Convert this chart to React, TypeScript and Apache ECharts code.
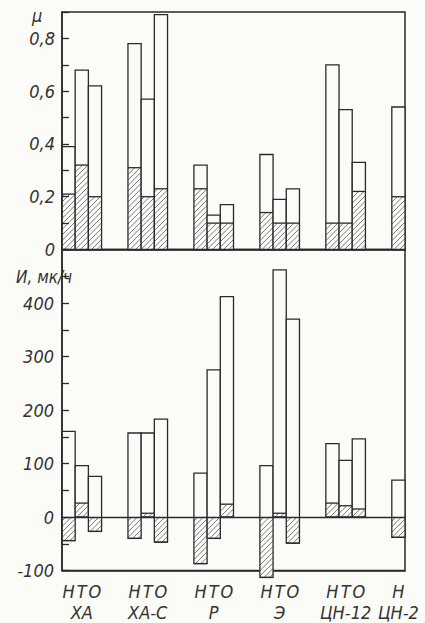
import { useEffect, useRef } from "react";
import * as echarts from "echarts";

// Groups of three bars (Н, Т, О) per material; last group has only Н
const barLetters = ["Н", "Т", "О"];
const groupNames = ["ХА", "ХА-С", "Р", "Э", "ЦН-12", "ЦН-2"];
const barsPerGroup = [3, 3, 3, 3, 3, 1];

// Upper panel: friction coefficient μ (total bar height and hatched part)
const muTotal = [0.39, 0.68, 0.62, 0.78, 0.57, 0.89, 0.32, 0.13, 0.17, 0.36, 0.19, 0.23, 0.7, 0.53, 0.33, 0.54];
const muHatched = [0.21, 0.32, 0.2, 0.31, 0.2, 0.23, 0.23, 0.1, 0.1, 0.14, 0.1, 0.1, 0.1, 0.1, 0.22, 0.2];

// Lower panel: wear И, мк/ч (total positive height and hatched part, may be negative)
const wearTotal = [160, 96, 76, 157, 157, 183, 82, 275, 412, 96, 462, 370, 137, 106, 146, 69];
const wearHatched = [-44, 26, -27, -40, 7, -47, -87, -40, 24, -113, 7, -49, 26, 21, 15, -38];

const muTicks = { min: 0, max: 0.9, interval: 0.1 };
const wearTicks = { min: -100, max: 500, interval: 50 };

const SLOTS_PER_GROUP = 5;
const INK = "#2a2a2a";
const HATCH = "#6b6b6b";
const PAPER = "#fbfbf8";
const FONT = "'Liberation Sans Narrow', 'DejaVu Sans Condensed', sans-serif";
const HATCH_STEP = 5.5;

function buildSlots() {
  const slots: { g: number; b: number; i: number }[] = [];
  let i = 0;
  const n = (groupNames.length - 1) * SLOTS_PER_GROUP + barsPerGroup[groupNames.length - 1];
  for (let s = 0; s < n; s++) {
    const g = Math.floor(s / SLOTS_PER_GROUP);
    const b = s % SLOTS_PER_GROUP;
    if (b < barsPerGroup[g]) {
      slots.push({ g, b, i });
      i++;
    } else {
      slots.push({ g, b: -1, i: -1 });
    }
  }
  return slots;
}

// renderItem for a bar made of a hatched part (0..hatched) and a white part up to total
function renderBar(_params: any, api: any) {
  const x = api.value(0);
  const h = api.value(1);
  const t = api.value(2);
  const p0 = api.coord([x, 0]);
  const pH = api.coord([x, h]);
  const pT = api.coord([x, t]);
  const bw = api.size([1, 0])[0];
  const xl = p0[0] - bw / 2;
  const xr = xl + bw;
  const yTop = Math.min(pT[1], pH[1], p0[1]);
  const yBot = Math.max(pT[1], pH[1], p0[1]);
  const hy0 = Math.min(pH[1], p0[1]);
  const hy1 = Math.max(pH[1], p0[1]);

  const children: any[] = [
    {
      type: "rect",
      shape: { x: xl, y: yTop, width: bw, height: yBot - yTop },
      style: { fill: PAPER, stroke: null },
    },
  ];
  // hatch lines "/" : x + y = c
  const cStart = Math.ceil((xl + hy0) / HATCH_STEP) * HATCH_STEP;
  for (let c = cStart; c <= xr + hy1; c += HATCH_STEP) {
    const ya = Math.min(hy1, c - xl);
    const yb = Math.max(hy0, c - xr);
    if (ya - yb < 0.5) continue;
    children.push({
      type: "line",
      shape: { x1: c - ya, y1: ya, x2: c - yb, y2: yb },
      style: { stroke: HATCH, lineWidth: 0.9 },
    });
  }
  // joint line between hatched and white parts
  children.push({
    type: "line",
    shape: { x1: xl, y1: pH[1], x2: xr, y2: pH[1] },
    style: { stroke: INK, lineWidth: 1.3 },
  });
  // outline
  children.push({
    type: "rect",
    shape: { x: xl, y: yTop, width: bw, height: yBot - yTop },
    style: { fill: null, stroke: INK, lineWidth: 1.3 },
  });
  return { type: "group", children };
}

export default function App() {
  const ref = useRef<HTMLDivElement>(null);

  useEffect(() => {
    if (!ref.current) return;
    const chart = echarts.init(ref.current, undefined, { renderer: "svg" });
    const slots = buildSlots();
    const cats = slots.map((_, k) => String(k));

    const barData = (tot: number[], hat: number[]) =>
      slots
        .map((s, k) => ({ s, k }))
        .filter(({ s }) => s.i >= 0)
        .map(({ s, k }) => [k, hat[s.i], tot[s.i]]);

    const labelFmt = (_v: string, idx: number) => {
      const s = slots[idx];
      if (!s || s.b < 0) return "";
      const letter = barLetters[s.b];
      const mid = barsPerGroup[s.g] === 1 ? 0 : 1;
      if (s.b === mid) return `${letter}\n${groupNames[s.g]}`;
      return letter;
    };

    const left = 62;
    const width = 343;
    const yLabel = {
      color: "#333",
      fontFamily: FONT,
      fontStyle: "italic",
      fontSize: 18,
    };
    const gridCommon = {
      left,
      width,
      show: true,
      borderColor: INK,
      borderWidth: 1.5,
      containLabel: false,
      outerBoundsMode: "none",
    };

    chart.setOption({
      animation: false,
      backgroundColor: PAPER,
      grid: [
        { ...gridCommon, top: 12, height: 237.5 },
        { ...gridCommon, top: 249.5, height: 321 },
      ],
      xAxis: [
        {
          type: "category",
          gridIndex: 0,
          data: cats,
          axisLine: { show: true, lineStyle: { color: INK, width: 1.5 } },
          axisTick: { show: false },
          axisLabel: { show: false },
        },
        {
          type: "category",
          gridIndex: 1,
          data: cats,
          position: "bottom",
          axisLine: { show: true, onZero: false, lineStyle: { color: INK, width: 1.5 } },
          axisTick: { show: false },
          axisLabel: {
            interval: 0,
            formatter: labelFmt,
            color: "#333",
            fontFamily: FONT,
            fontStyle: "italic",
            fontSize: 18,
            lineHeight: 21,
            margin: 10,
          },
        },
        {
          // zero line of the lower panel
          type: "category",
          gridIndex: 1,
          data: cats,
          position: "top",
          axisLine: { show: true, onZero: true, lineStyle: { color: INK, width: 1.4 } },
          axisTick: { show: false },
          axisLabel: { show: false },
          z: 5,
        },
      ],
      yAxis: [
        {
          type: "value",
          gridIndex: 0,
          ...muTicks,
          z: 5,
          splitLine: { show: false },
          axisLine: { show: true, lineStyle: { color: INK, width: 1.5 } },
          axisTick: { show: true, inside: true, length: 7, lineStyle: { color: INK, width: 1.3 } },
          axisLabel: {
            ...yLabel,
            margin: 7,
            showMinLabel: true,
            formatter: (v: number) => {
              const k = Math.round(v * 10);
              if (k % 2 !== 0) return "";
              return k === 0 ? "0" : (k / 10).toFixed(1).replace(".", ",");
            },
          },
        },
        {
          type: "value",
          gridIndex: 1,
          ...wearTicks,
          z: 5,
          splitLine: { show: false },
          axisLine: { show: true, lineStyle: { color: INK, width: 1.5 } },
          axisTick: { show: true, inside: true, length: 7, lineStyle: { color: INK, width: 1.3 } },
          axisLabel: {
            ...yLabel,
            margin: 8,
            formatter: (v: number) => (v % 100 === 0 && v !== 500 ? String(v) : ""),
          },
        },
      ],
      series: [
        {
          type: "custom",
          xAxisIndex: 0,
          yAxisIndex: 0,
          z: 1,
          renderItem: renderBar,
          encode: { x: 0, y: [1, 2] },
          data: barData(muTotal, muHatched),
        },
        {
          type: "custom",
          xAxisIndex: 1,
          yAxisIndex: 1,
          z: 1,
          clip: false,
          renderItem: renderBar,
          encode: { x: 0, y: [1, 2] },
          data: barData(wearTotal, wearHatched),
        },
      ],
      graphic: [
        {
          type: "text",
          left: 32,
          top: 6,
          style: { text: "μ", fill: "#333", font: `italic 18px ${FONT}` },
        },
        {
          type: "text",
          left: 16,
          top: 268,
          style: { text: "И, мк/ч", fill: "#333", font: `italic 17px ${FONT}` },
        },
      ],
    });

    return () => chart.dispose();
  }, []);

  return (
    <div
      ref={ref}
      style={{ position: "fixed", left: 0, top: 0, width: 425, height: 623 }}
    />
  );
}
